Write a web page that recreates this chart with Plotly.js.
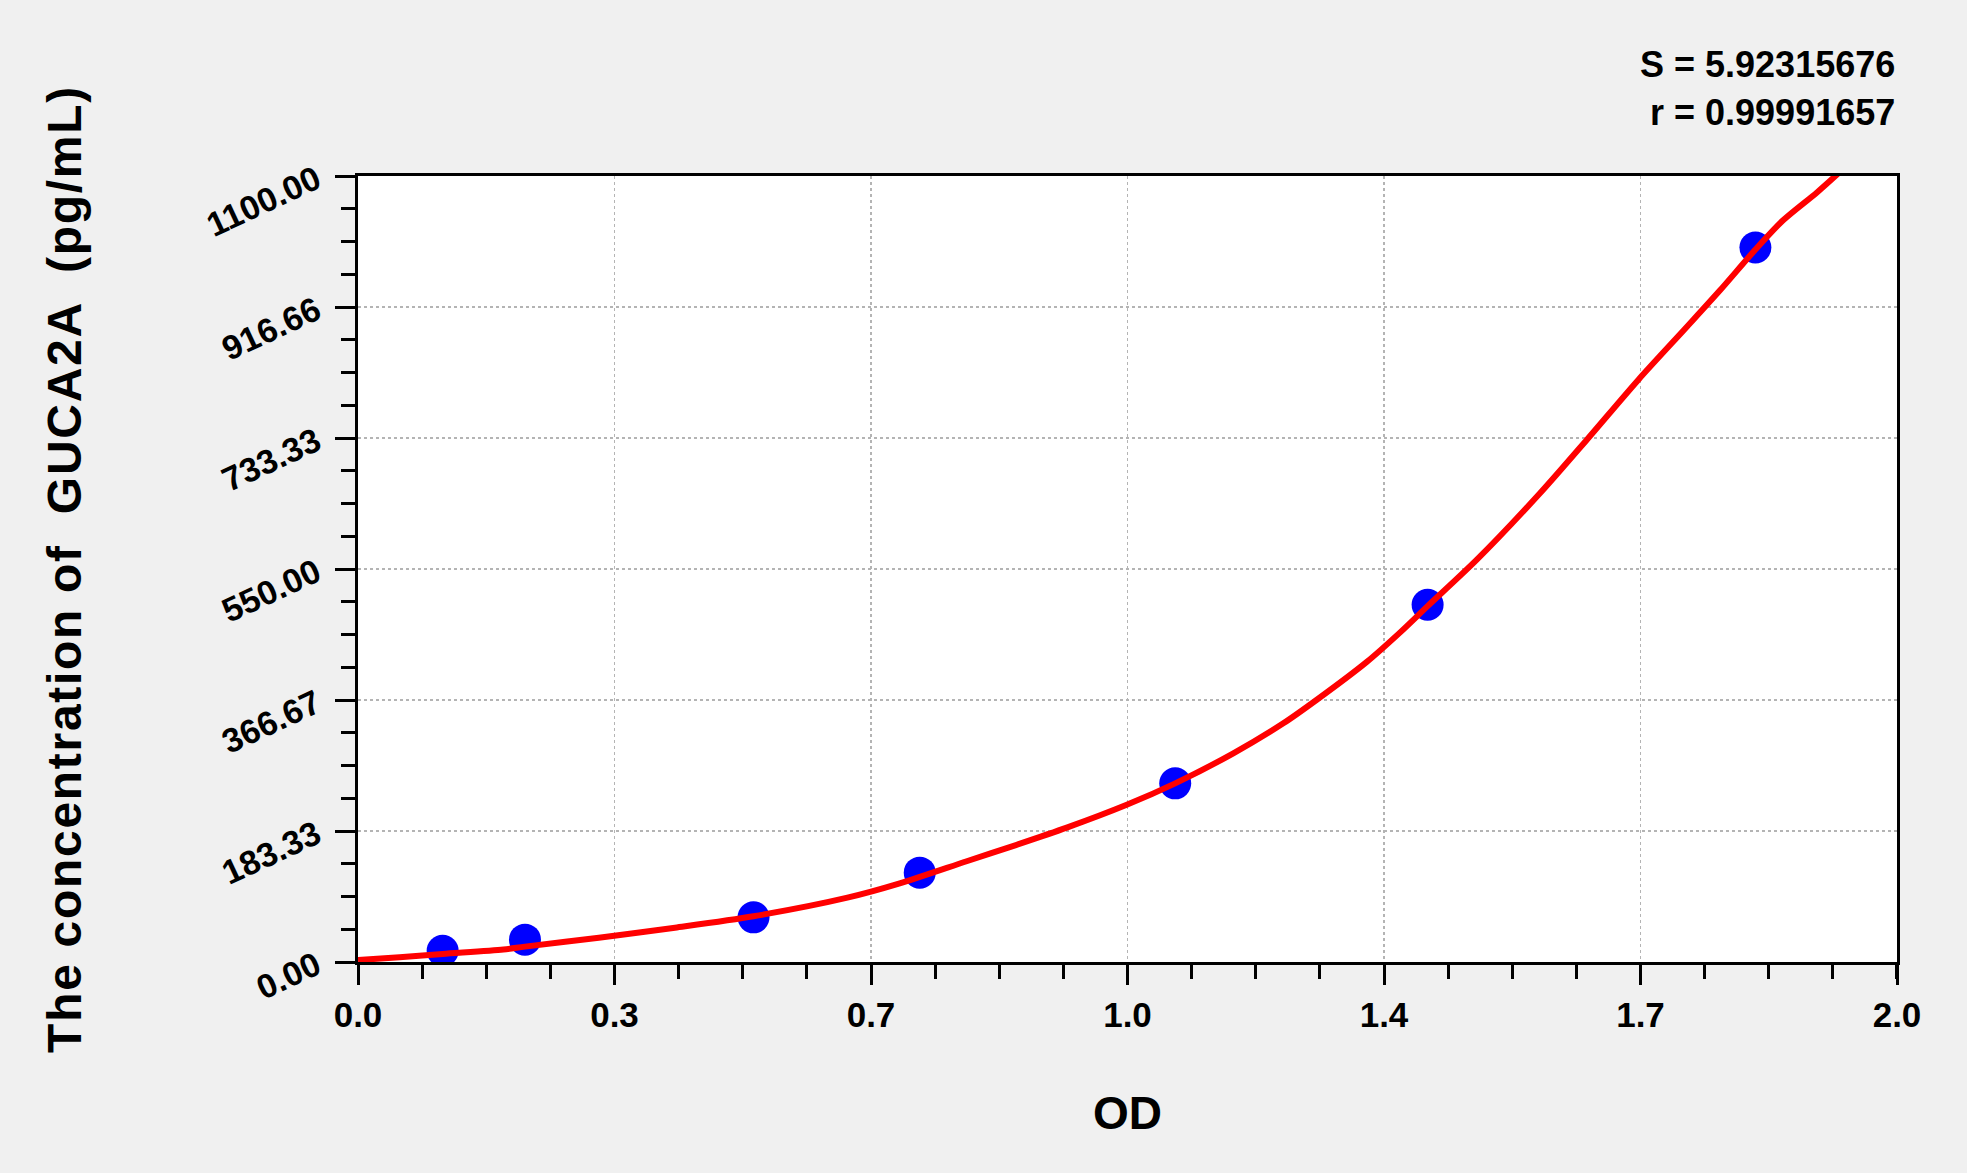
<!DOCTYPE html>
<html>
<head>
<meta charset="utf-8">
<script src="https://cdn.plot.ly/plotly-3.0.1.min.js"></script>
<style>
html,body{margin:0;padding:0;background:#f0f0f0;}
#chart{width:1967px;height:1173px;}
</style>
</head>
<body>
<div id="chart"></div>
<script>
// Standard points (OD vs concentration)
const stdOD   = [0.110, 0.217, 0.514, 0.730, 1.062, 1.390, 1.816];
const stdConc = [15.6, 31.25, 62.5, 125, 250, 500, 1000];

// Fitted curve
const fitOD   = [0, 0.054, 0.110, 0.189, 0.217, 0.313, 0.412, 0.514, 0.636, 0.704, 0.791, 0.856, 0.921, 0.999, 1.062, 1.1375, 1.2025, 1.246, 1.311, 1.354, 1.390, 1.454, 1.536, 1.597, 1.664, 1.727, 1.770, 1.816, 1.852, 1.896, 1.924];
const fitConc = [2.8, 6.5, 11.2, 17.5, 21.5, 34, 48, 64, 90, 110, 141, 164, 188, 220, 250, 292, 334, 367, 420, 461, 498, 563, 656, 731, 815, 889, 940, 997, 1038, 1077, 1104];

// Tick labels
const xTickVals = [0, 0.33333, 0.66667, 1.0, 1.33333, 1.66667, 2.0];
const xTickText = ['0.0', '0.3', '0.7', '1.0', '1.4', '1.7', '2.0'];
const yTickVals = [0, 183.33, 366.67, 550, 733.33, 916.66, 1100];
const yTickText = ['0.00', '183.33', '366.67', '550.00', '733.33', '916.66', '1100.00'];

const statS = 'S = 5.92315676';
const statR = 'r = 0.99991657';

const FONT = '"Liberation Sans", Arial, sans-serif';

const traces = [
  {
    x: stdOD, y: stdConc, type: 'scatter', mode: 'markers',
    marker: {color: '#0000ff', size: 32},
    hoverinfo: 'x+y', showlegend: false
  },
  {
    x: fitOD, y: fitConc, type: 'scatter', mode: 'lines',
    line: {color: '#ff0000', width: 6, shape: 'spline', smoothing: 0.8},
    showlegend: false
  }
];

const axisCommon = {
  showline: true, linecolor: '#000', linewidth: 3, mirror: true,
  ticks: 'outside', ticklen: 20, tickwidth: 3, tickcolor: '#000',
  showgrid: true, gridcolor: '#b4b4b4', gridwidth: 1.5, griddash: 'dot',
  zeroline: false, fixedrange: true
};

const layout = {
  width: 1967, height: 1173,
  paper_bgcolor: '#f0f0f0', plot_bgcolor: '#ffffff',
  margin: {l: 358, r: 70, t: 176, b: 211},
  font: {family: FONT, color: '#000'},
  xaxis: Object.assign({}, axisCommon, {
    range: [0, 2],
    tickmode: 'array', tickvals: xTickVals, ticktext: xTickText,
    tickfont: {family: FONT, size: 35, weight: 'bold', color: '#000'},
    minor: {tickmode: 'linear', tick0: 0, dtick: 0.083333, ticks: 'outside', ticklen: 14, tickwidth: 3, tickcolor: '#000', showgrid: false},
    title: {text: 'OD', font: {family: FONT, size: 46, weight: 'bold', color: '#000'}, standoff: 64}
  }),
  yaxis: Object.assign({}, axisCommon, {
    range: [0, 1100],
    tickmode: 'array', tickvals: yTickVals, ticktext: yTickText,
    tickangle: -25,
    ticklabelstandoff: 12,
    tickfont: {family: FONT, size: 34, weight: 'bold', color: '#000'},
    minor: {tickmode: 'linear', tick0: 0, dtick: 45.8333, ticks: 'outside', ticklen: 14, tickwidth: 3, tickcolor: '#000', showgrid: false},
    title: {text: 'The concentration of  GUCA2A  (pg/mL)', font: {family: FONT, size: 48, weight: 'bold', color: '#000'}, standoff: 104}
  }),
  annotations: [
    {text: statS, xref: 'paper', yref: 'paper', x: 1, y: 1.1419, xanchor: 'right', yanchor: 'middle', showarrow: false,
     font: {family: FONT, size: 36, weight: 'bold', color: '#000'}},
    {text: statR, xref: 'paper', yref: 'paper', x: 1, y: 1.0808, xanchor: 'right', yanchor: 'middle', showarrow: false,
     font: {family: FONT, size: 36, weight: 'bold', color: '#000'}}
  ]
};

Plotly.newPlot('chart', traces, layout, {displayModeBar: false, staticPlot: true}).then(function () {
  const t = document.querySelector('.g-ytitle text');
  if (t) t.setAttribute('letter-spacing', '1.7px');
});
</script>
</body>
</html>
